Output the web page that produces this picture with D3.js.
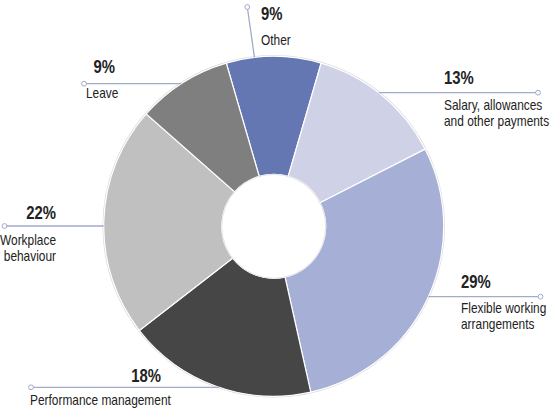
<!DOCTYPE html>
<html>
<head>
<meta charset="utf-8">
<script src="https://cdn.jsdelivr.net/npm/d3@7"></script>
<style>
  body { margin: 0; background: #fff; }
  svg { display: block; }
</style>
</head>
<body>
<script>
// data
const categories = ['Other', 'Salary, allowances|and other payments', 'Flexible working|arrangements',
  'Performance management', 'Workplace|behaviour', 'Leave'];
const values = [9, 13, 29, 18, 22, 9];
const colors = ['#6577b3', '#cfd1e6', '#a6b0d7', '#464646', '#c0c0c0', '#7f7f7f'];

// setting canvas
const width = 560;
const height = 416;
const cx = 273.7;
const cy = 226.3;
const outerR = 170;
const innerR = 52;
const lineColor = '#a3aacb';
const font = '"Liberation Sans", Arial, sans-serif';
const squeeze = 0.85; // condensed look

const svg = d3.select('body').append('svg').attr('width', width).attr('height', height);

const total = d3.sum(values);
const pie = d3
  .pie()
  .sort(null)
  .startAngle(-Math.PI * values[0] / total)
  .endAngle(2 * Math.PI - Math.PI * values[0] / total);

const arc = d3.arc().innerRadius(innerR).outerRadius(outerR);

const g = svg.append('g').attr('transform', `translate(${cx}, ${cy})`);

// faint rim
g.append('circle').attr('r', outerR + 0.6).attr('fill', 'none').attr('stroke', '#d8d8d8').attr('stroke-width', 1.2);

g.selectAll('path')
  .data(pie(values))
  .enter()
  .append('path')
  .attr('d', arc)
  .attr('fill', (d, i) => colors[i])
  .attr('stroke', '#fff')
  .attr('stroke-width', 1.2);

g.append('circle').attr('r', innerR).attr('fill', '#fff').attr('stroke', '#e4e4e4').attr('stroke-width', 1);

// label layout: line y, outer dot x, side, percent x & anchor, text x & anchor
const layout = [
  { dot: [247.3, 7], edgeAngle: -6.5, pct: [261, 20, 'start'], txt: [261, 45, 'start'] },
  { y: 92.7, dotX: 538, side: 1, pct: [444, 84, 'start'], txt: [444, 110, 'start'] },
  { y: 296.7, dotX: 540.5, side: 1, pct: [461, 288, 'start'], txt: [461, 313, 'start'] },
  { y: 387.3, dotX: 31, side: -1, pct: [161, 381.5, 'end'], txt: [30, 405, 'start'] },
  { y: 226, dotX: 4.5, side: -1, pct: [56, 219, 'end'], txt: [56, 245, 'end'] },
  { y: 83.7, dotX: 84, side: -1, pct: [115, 73, 'end'], txt: [86, 98, 'start'] },
];

const labels = svg.append('g');

layout.forEach((l, i) => {
  let x1, y1, x2, y2;
  if (l.dot) {
    const a = (l.edgeAngle * Math.PI) / 180;
    [x1, y1] = l.dot;
    x2 = cx + outerR * Math.sin(a);
    y2 = cy - outerR * Math.cos(a);
  } else {
    const dx = Math.sqrt(outerR * outerR - (l.y - cy) * (l.y - cy));
    x1 = l.dotX;
    y1 = l.y;
    x2 = cx + l.side * dx;
    y2 = l.y;
  }
  labels.append('line')
    .attr('x1', x1).attr('y1', y1).attr('x2', x2).attr('y2', y2)
    .attr('stroke', lineColor).attr('stroke-width', 1.3);
  labels.append('circle')
    .attr('cx', x1).attr('cy', y1).attr('r', 2.4)
    .attr('fill', '#fff').attr('stroke', lineColor).attr('stroke-width', 1);

  labels.append('text')
    .text(`${values[i]}%`)
    .attr('transform', `translate(${l.pct[0]}, ${l.pct[1]}) scale(${squeeze}, 1)`)
    .attr('text-anchor', l.pct[2])
    .attr('font-family', font).attr('font-weight', 'bold').attr('font-size', '17.5px')
    .attr('fill', '#222');

  const t = labels.append('text')
    .attr('transform', `translate(${l.txt[0]}, ${l.txt[1]}) scale(${squeeze}, 1)`)
    .attr('text-anchor', l.txt[2])
    .attr('font-family', font).attr('font-size', '14px')
    .attr('fill', '#222');
  categories[i].split('|').forEach((s, k) => {
    t.append('tspan').attr('x', 0).attr('dy', k === 0 ? 0 : 16.5).text(s);
  });
});
</script>
</body>
</html>
